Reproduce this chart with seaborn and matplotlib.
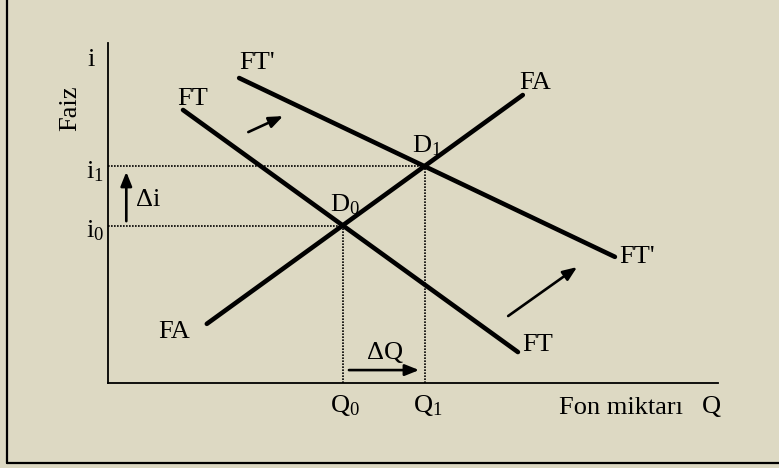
import matplotlib
matplotlib.use("Agg")
import matplotlib.pyplot as plt
import seaborn as sns
import pandas as pd
from matplotlib.lines import Line2D

# ---- data (Q = fon miktarı, i = faiz) ----
Q_FA = [1.62, 6.80]
i_FA = [1.74, 8.47]
Q_FT = [1.23, 6.72]
i_FT = [8.03, 0.91]
Q_FT2 = [2.15, 8.31]
i_FT2 = [8.97, 3.71]
Q_eq = [3.85, 5.20]
i_eq = [4.63, 6.37]
eq_labels = ["D$_0$", "D$_1$"]
q_tick_labels = ["Q$_0$", "Q$_1$"]
i_tick_labels = ["i$_0$", "i$_1$"]

BG = "#DDD9C3"

sns.set_theme(style="white")
plt.rcParams["font.family"] = ["Liberation Serif", "DejaVu Serif"]
plt.rcParams["mathtext.fontset"] = "custom"
plt.rcParams["mathtext.rm"] = "Liberation Serif"
plt.rcParams["mathtext.it"] = "Liberation Serif"

fig = plt.figure(figsize=(7.79, 4.68), dpi=100, facecolor=BG)
W, H = 779, 468
ax = fig.add_axes([108 / W, (H - 383) / H, 610 / W, 340 / H])
ax.set_facecolor("none")
ax.set_xlim(0, 10)
ax.set_ylim(0, 10)

curves = pd.concat([
    pd.DataFrame({"Q": Q_FA, "i": i_FA, "curve": "FA"}),
    pd.DataFrame({"Q": Q_FT, "i": i_FT, "curve": "FT"}),
    pd.DataFrame({"Q": Q_FT2, "i": i_FT2, "curve": "FT'"}),
])
sns.lineplot(data=curves, x="Q", y="i", units="curve", estimator=None,
             color="black", lw=3.3, sort=False, ax=ax, legend=False)

# dotted guide lines
for q, r in zip(Q_eq, i_eq):
    ax.plot([0, q], [r, r], color="black", lw=1.2, ls=(0, (1, 0.8)))
    ax.plot([q, q], [0, r], color="black", lw=1.2, ls=(0, (1, 0.8)))

# axes
sns.despine(ax=ax)
for s in ["left", "bottom"]:
    ax.spines[s].set_color("black")
    ax.spines[s].set_linewidth(1.3)
ax.set_xticks([])
ax.set_yticks([])
ax.set_xlabel("")
ax.set_ylabel("")

fs = 19
txt = dict(fontsize=fs, color="black", ha="center", va="center")

# curve labels
ax.text(1.38, 8.35, "FT", **txt)
ax.text(2.45, 9.41, "FT'", **txt)
ax.text(7.00, 8.82, "FA", **txt)
ax.text(8.68, 3.71, "FT'", **txt)
ax.text(7.05, 1.12, "FT", **txt)
ax.text(1.08, 1.50, "FA", **txt)

# equilibrium labels
ax.text(Q_eq[0] + 0.04, i_eq[0] + 0.62, eq_labels[0], **txt)
ax.text(Q_eq[1] + 0.03, i_eq[1] + 0.62, eq_labels[1], **txt)

# axis labels
ax.text(-0.28, 9.50, "i", **txt)
ax.text(-0.62, 8.09, "Faiz", rotation=90, **txt)
ax.text(8.41, -0.74, "Fon miktarı", **txt)
ax.text(9.89, -0.71, "Q", **txt)
for r, lab in zip(i_eq, i_tick_labels):
    ax.text(-0.21, r - 0.15, lab, **txt)
for q, lab in zip(Q_eq, q_tick_labels):
    ax.text(q + 0.04, -0.65, lab, **txt)

# arrows
arr = dict(arrowstyle="-|>,head_length=0.7,head_width=0.28", color="black", lw=1.9,
           shrinkA=0, shrinkB=0)
ax.annotate("", xy=(0.30, 6.21), xytext=(0.30, 4.76), arrowprops=arr)
ax.text(0.66, 5.38, "Δi", **txt)
ax.annotate("", xy=(5.10, 0.38), xytext=(3.95, 0.38), arrowprops=arr)
ax.text(4.54, 0.88, "ΔQ", **txt)
ax.annotate("", xy=(2.87, 7.85), xytext=(2.30, 7.38), arrowprops=arr)
ax.annotate("", xy=(7.69, 3.41), xytext=(6.56, 1.97), arrowprops=arr)

# frame (left and bottom)
fig.add_artist(Line2D([7 / W, 7 / W], [(H - 463) / H, 1.0], color="black", lw=1.6,
                      transform=fig.transFigure))
fig.add_artist(Line2D([7 / W, 1.0], [(H - 463) / H, (H - 463) / H], color="black", lw=1.6,
                      transform=fig.transFigure))

fig.savefig("out.png", dpi=100, facecolor=BG)
